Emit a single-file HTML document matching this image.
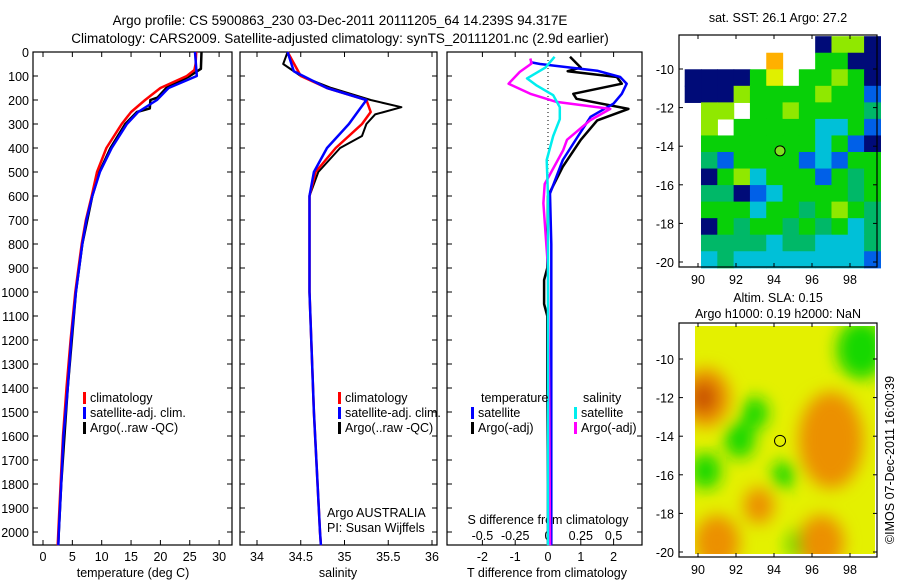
<!DOCTYPE html>
<html><head><meta charset="utf-8"><style>
body{margin:0;background:#fff;width:900px;height:580px;overflow:hidden}
svg{font-family:"Liberation Sans",sans-serif;font-size:12.5px}
</style></head><body>
<svg id="s" width="900" height="580"></svg>
<script>
// ---- data ----
const depthTicks=[0,100,200,300,400,500,600,700,800,900,1000,1100,1200,1300,1400,1500,1600,1700,1800,1900,2000];
const tempTicks=[0,5,10,15,20,25,30];
const salTicks=[34,34.5,35,35.5,36];
const tdTicks=[-2,-1,0,1,2];
const sdTicks=[-0.5,-0.25,0,0.25,0.5];
const sdTickLabels=['-0.5','-0.25','0','0.25','0.5'];
const tempClimD=[0,50,75,100,150,200,250,300,400,500,600,700,800,1000,1200,1400,1600,1800,2000,2055];
const tempClim=[26.1,26,25.8,24.5,20,17.4,15,13.4,10.8,9.2,8.3,7.3,6.6,5.5,4.7,4.0,3.4,3.0,2.6,2.5];
const tempSatD=[0,100,150,200,250,300,400,500,600,700,800,1000,1200,1400,1600,1800,2000,2055];
const tempSat=[25.9,26.2,21.4,19.4,16.2,14.3,11.7,9.7,8.4,7.4,6.7,5.6,4.8,4.2,3.5,3.1,2.7,2.6];
const tempArgoD=[0,70,100,150,190,200,235,250,300,400,500,600,800,1000,1400,1800,2000,2050];
const tempArgo=[27.0,26.9,25,21,19.5,18.3,18.2,16,14,11.5,9.6,8.4,6.7,5.6,4.2,3.1,2.7,2.6];
const salClimD=[0,100,150,200,250,300,400,500,600,800,1000,1500,2000,2055];
const salClim=[34.35,34.5,34.8,35.25,35.3,35.2,34.9,34.67,34.6,34.6,34.6,34.65,34.72,34.73];
const salSatD=[0,80,150,200,250,300,400,500,600,800,1000,1500,2000,2055];
const salSat=[34.35,34.42,34.8,35.25,35.15,35.05,34.8,34.65,34.6,34.6,34.6,34.65,34.72,34.73];
const salArgoD=[0,50,100,150,200,230,260,300,350,400,500,600,1000,1500,2000,2050];
const salArgo=[34.35,34.3,34.5,34.85,35.3,35.65,35.35,35.25,35.2,34.95,34.7,34.6,34.6,34.65,34.72,34.73];
const tdSatD=[42,50,78,104,132,174,215,270,354,450,590,800,1200,2055];
const tdSat=[-0.55,-0.24,1.5,2.2,2.4,2.25,2.0,1.3,0.9,0.45,0.06,0.1,0.1,0.1];
const tdArgoD=[20,65,80,104,132,174,195,237,285,366,478,600,900,950,1050,1100,1400,1800,2050];
const tdArgo=[0.67,1.0,0.6,2.1,2.25,0.77,0.87,2.45,1.5,1.0,0.45,0,-0.02,-0.12,-0.12,-0.02,-0.02,0,0];
const sdArgoD=[27,48,83,132,174,208,237,285,366,410,550,630,900,1500,2055];
const sdArgo=[-0.135,-0.125,-0.215,-0.3,-0.135,0.065,0.475,0.32,0.145,0.115,-0.025,-0.035,0.0,0.01,0.015];
const sdSatD=[20,65,110,140,180,230,280,350,450,600,1000,2055];
const sdSat=[0.05,-0.02,-0.16,-0.085,0.04,0.09,0.09,0.04,-0.01,0,0,0];
const lonTicks=[90,92,94,96,98];
const latTicks=[-10,-12,-14,-16,-18,-20];
// SST map: 12 cols x 14 rows, lon 89.3..99.6, lat -8.3..-20.3
const sstRows=["WWWWWWWWNLLN","WWWWWOWWGGNN","NNNNGYWGGLGN","NNNLGGGGLGGB","WLLWGGLGGGGT","WLWGGGGGCCGB","WGGGGGGGCGBN","WTBGGGGBCBGG","WNGLCGGGBGTG","WTTNBCGGGGTG","WGGGCGGTGLGT","WNGTGGTGTGCT","WTTTTCTTCCCT","WCTCCCCCCCCB"];
// SLA blobs: lon, lat, radius(deg), kind
const slaLon=[90.4,97.0,90.3,98.6,93.0,92.2,90.4,95.4,93.2,94.5,91,96.5];
const slaLat=[-12.0,-14.2,-12,-9.5,-12.8,-14.2,-15.8,-19.6,-17.6,-16,-19.5,-19.5];
const slaR=[1.3,1.7,0.7,1.3,0.7,0.8,0.8,0.7,0.8,0.6,1.2,1.2];
const slaKind=['o','o','d','g','g','g','g','g','o','g','o','o'];
const colors={N:'#000b78',B:'#0060e8',C:'#00c0d8',T:'#00b868',G:'#08d008',L:'#90e800',Y:'#e0f000',O:'#ffb000'};

// ---- helpers ----
const S=document.getElementById('s');const NS='http://www.w3.org/2000/svg';
function mk(tag,attrs,parent){const e=document.createElementNS(NS,tag);for(const k in attrs)e.setAttribute(k,attrs[k]);(parent||S).appendChild(e);return e;}
function txt(x,y,t,anchor,name,extra){const e=mk('text',Object.assign({x:x,y:y,'text-anchor':anchor||'middle'},extra||{}));e.textContent=t;


return e;}
const Y0=52,YB=545,KY=0.24;const dy=d=>Y0+d*KY;
const panels=[{x0:33,x1:232},{x0:240,x1:437},{x0:447,x1:642}];
const tx=v=>43+v*5.87;
const sx=v=>257+(v-34)*87.5;
const tdx=v=>548+v*32.8;
const sdx=v=>548+v*131.2;
function line(D,V,fx,color,w,name){const pts=D.map((d,i)=>fx(V[i]).toFixed(1)+','+dy(d).toFixed(1)).join(' ');
const e=mk('polyline',{points:pts,fill:'none',stroke:color,'stroke-width':w,'stroke-linejoin':'round'});

}

// titles
txt(340,25,'Argo profile: CS 5900863_230 03-Dec-2011 20111205_64 14.239S 94.317E','middle','title-line-1',{'font-size':'13.5px'});
txt(340,43,'Climatology: CARS2009. Satellite-adjusted climatology: synTS_20111201.nc (2.9d earlier)','middle','title-line-2',{'font-size':'13.5px'});

// panel frames + depth ticks
panels.forEach((p,i)=>{
 const r=mk('rect',{x:p.x0,y:Y0,width:p.x1-p.x0,height:YB-Y0,fill:'none',stroke:'#000','stroke-width':1.2});
 
 
 depthTicks.forEach(d=>{mk('line',{x1:p.x0,x2:p.x0+5,y1:dy(d),y2:dy(d),stroke:'#000'});mk('line',{x1:p.x1-5,x2:p.x1,y1:dy(d),y2:dy(d),stroke:'#000'});});
});
depthTicks.forEach(d=>txt(29,dy(d)+5,String(d),'end','depth-tick-label'));
function xticks(p,vals,fx,labels,ly){vals.forEach((v,i)=>{const x=fx(v);mk('line',{x1:x,x2:x,y1:Y0,y2:Y0+5,stroke:'#000'});mk('line',{x1:x,x2:x,y1:YB-5,y2:YB,stroke:'#000'});
 if(labels)txt(x,ly,labels[i],'middle','x-tick-label');});}
xticks(panels[0],tempTicks,tx,tempTicks.map(String),561);
xticks(panels[1],salTicks,sx,salTicks.map(String),561);
xticks(panels[2],tdTicks,tdx,tdTicks.map(String),561);
sdTicks.forEach((v,i)=>txt(sdx(v),540,sdTickLabels[i],'middle','s-diff-tick-label'));
txt(133,577,'temperature (deg C)','middle','x-axis-title-temperature');
txt(338,577,'salinity','middle','x-axis-title-salinity');
txt(547,577,'T difference from climatology','middle','x-axis-title-t-difference');
txt(548,524,'S difference from climatology','middle','s-difference-title');
// zero dotted line
const zl=mk('line',{x1:548,x2:548,y1:Y0,y2:YB,stroke:'#000','stroke-dasharray':'1,3'});



// series
line(tempArgoD,tempArgo,tx,'#000',2.5,'temp-argo-line');
line(tempClimD,tempClim,tx,'#f00',2.5,'temp-climatology-line');
line(tempSatD,tempSat,tx,'#00f',2.5,'temp-satellite-line');
line(salArgoD,salArgo,sx,'#000',2,'sal-argo-line');
line(salClimD,salClim,sx,'#f00',2.5,'sal-climatology-line');
line(salSatD,salSat,sx,'#00f',2.5,'sal-satellite-line');
line(tdArgoD,tdArgo,tdx,'#000',2.5,'tdiff-argo-line');
line(tdSatD,tdSat,tdx,'#00f',2.5,'tdiff-satellite-line');
line(sdArgoD,sdArgo,sdx,'#f0f',2.5,'sdiff-argo-line');
line(sdSatD,sdSat,sdx,'#0ee',2.5,'sdiff-satellite-line');

// legends
function leg(x,y,c,t,name){const m=mk('rect',{x:x,y:y-10,width:3,height:12,fill:c});


txt(x+7,y,t,'start',name);}
[[83,'#f00','climatology'],[83,'#00f','satellite-adj. clim.'],[83,'#000','Argo(..raw -QC)']].forEach((a,i)=>leg(a[0],402+i*15,a[1],a[2],'legend-entry-temp'));
[[338,'#f00','climatology'],[338,'#00f','satellite-adj. clim.'],[338,'#000','Argo(..raw -QC)']].forEach((a,i)=>leg(a[0],402+i*15,a[1],a[2],'legend-entry-sal'));
txt(481,402,'temperature','start','legend-header-temperature');
txt(583,402,'salinity','start','legend-header-salinity');
leg(471,417,'#00f','satellite','legend-entry-tdiff-satellite');
leg(471,432,'#000','Argo(-adj)','legend-entry-tdiff-argo');
leg(574,417,'#0ee','satellite','legend-entry-sdiff-satellite');
leg(574,432,'#f0f','Argo(-adj)','legend-entry-sdiff-argo');
txt(327,517,'Argo AUSTRALIA','start','float-owner');
txt(327,532,'PI: Susan Wijffels','start','float-pi');

// ---- maps ----
const mx=lon=>698+(lon-90)*19.0;
function mapFrame(y0,y1,latY,labY,name){
 const r=mk('rect',{x:679,y:y0,width:198,height:y1-y0,fill:'none',stroke:'#000','stroke-width':1.2});
 
 
 lonTicks.forEach(l=>{const x=mx(l);mk('line',{x1:x,x2:x,y1:y0,y2:y0+4,stroke:'#000'});mk('line',{x1:x,x2:x,y1:y1-4,y2:y1,stroke:'#000'});txt(x,labY,String(l),'middle','lon-tick-label');});
 latTicks.forEach(l=>{const y=latY(l);mk('line',{x1:679,x2:683,y1:y,y2:y,stroke:'#000'});mk('line',{x1:873,x2:877,y1:y,y2:y,stroke:'#000'});txt(674,y+5,String(l),'end','lat-tick-label');});
}
// SST
const lat1=l=>69+(-10-l)*19.3;
const cw=(99.6-89.3)/12, ch=12/14;
const g1=mk('g',{});


sstRows.forEach((row,r)=>{[...row].forEach((c,k)=>{if(c==='W')return;
 const lonA=89.3+k*cw, latA=-8.3-r*ch;
 mk('rect',{x:Math.max(679,mx(lonA)),y:lat1(latA),width:cw*19.0+0.6,height:ch*19.3+0.6,fill:colors[c]},g1);});});
txt(778,22,'sat. SST: 26.1 Argo: 27.2','middle','sst-map-title');
mapFrame(35,267,lat1,284,'sst-map-frame');
mk('circle',{cx:mx(94.317),cy:lat1(-14.239),r:5,fill:'#80e020',stroke:'#000'});
// SLA
const lat2=l=>359+(-10-l)*19.3;
mk('defs',{}).innerHTML='<filter id="bl" x="-50%" y="-50%" width="200%" height="200%"><feGaussianBlur stdDeviation="8"/></filter><clipPath id="cp"><rect x="695" y="326" width="180" height="228"/></clipPath>';
const g2=mk('g',{'clip-path':'url(#cp)'});


mk('rect',{x:695,y:326,width:180,height:228,fill:'#e4f000'},g2);
const gb=mk('g',{filter:'url(#bl)'},g2);
const kc={o:'#ec9000',d:'#c85000',g:'#18d800'};
slaLon.forEach((l,i)=>{const e=mk('ellipse',{cx:mx(l),cy:lat2(slaLat[i]),rx:slaR[i]*19,ry:slaR[i]*19*(slaKind[i]==='o'&&i===1?1.5:1.2),fill:kc[slaKind[i]]},gb);
 
 });
txt(778,302,'Altim. SLA: 0.15','middle','sla-map-title-1');
txt(778,318,'Argo h1000: 0.19 h2000: NaN','middle','sla-map-title-2');
mapFrame(323,557,lat2,574,'sla-map-frame');
mk('circle',{cx:mx(94.317),cy:lat2(-14.239),r:5.5,fill:'none',stroke:'#000'});
txt(0,0,'©IMOS 07-Dec-2011 16:00:39','middle','copyright-timestamp',{transform:'translate(894,460) rotate(-90)'});
</script>
</body></html>
